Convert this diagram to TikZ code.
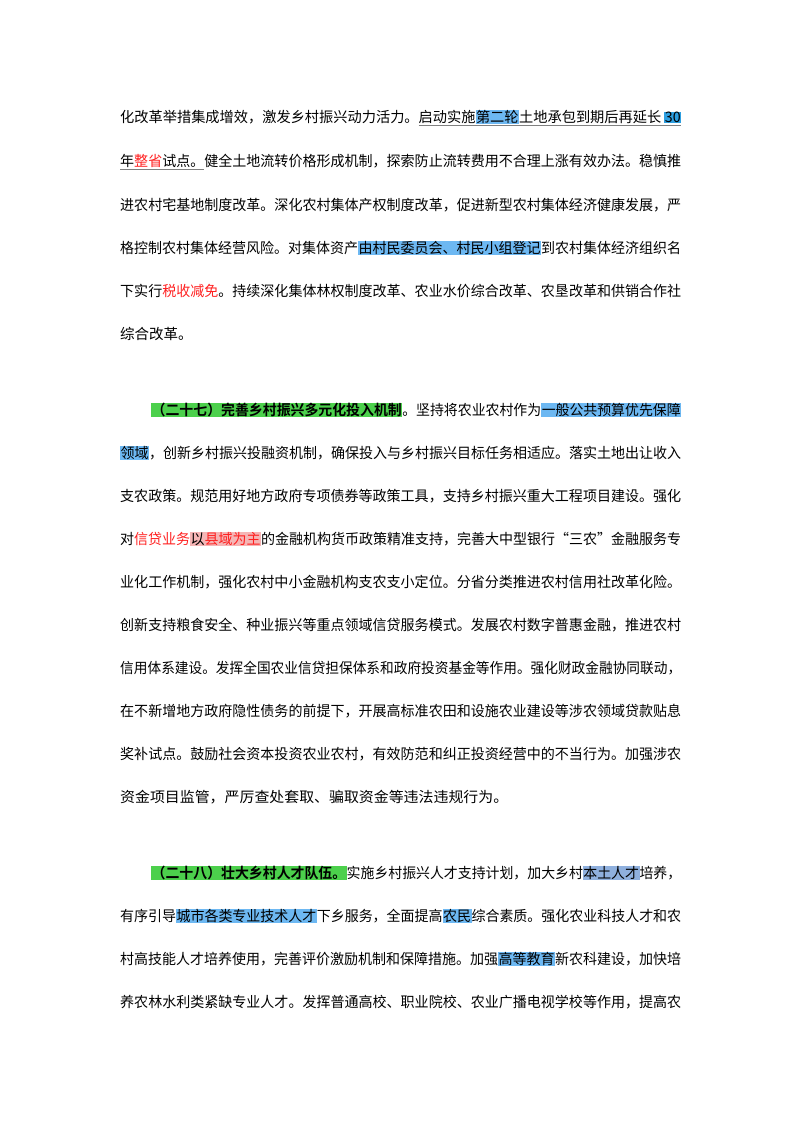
\documentclass[tikz,border=0pt]{standalone}
\usepackage{fontspec}
\setmainfont{Noto Sans CJK SC}[BoldFont={Noto Sans CJK SC Bold}]
\definecolor{hlblue}{HTML}{6DB8F2}
\definecolor{hldark}{HTML}{2E9FE0}
\definecolor{hlgrey}{HTML}{8FB0DE}
\definecolor{hlgreen}{HTML}{4CD04C}
\definecolor{hlpink}{HTML}{F5B5B5}
\definecolor{redtxt}{HTML}{FF2020}
\newcommand\hb[1]{{\fboxsep=0.5pt\colorbox{hlblue}{#1}}}
\newcommand\hd[1]{{\fboxsep=0.5pt\colorbox{hldark}{#1}}}
\newcommand\hg[1]{{\fboxsep=0.5pt\colorbox{hlgrey}{#1}}}
\newcommand\hgr[1]{{\fboxsep=0.5pt\colorbox{hlgreen}{\bfseries #1}}}
\newcommand\hp[1]{{\fboxsep=0.5pt\colorbox{hlpink}{#1}}}
\newcommand\rt[1]{{\color{redtxt}#1}}
\newcommand\ul[1]{{\color{gray}\underline{\color{black}#1}}}
\newcommand\fl[2]{\resizebox{#1pt}{\height}{#2}}
\begin{document}
\begin{tikzpicture}[x=1pt,y=-1pt,
  ln/.style={anchor=west,inner sep=0pt,font=\fontsize{14.5}{16}\selectfont}]
\useasboundingbox (0,0) rectangle (800,1132);
% paragraph 1
\node[ln] (a1) at (120,118) {\fl{561}{化改革举措集成增效，激发乡村振兴动力活力。\ul{启动实施\hb{第二轮}土地承包到期后再延长 \hd{30}}}};
\node[ln] (a2) at (120,162) {\fl{561}{\ul{年\rt{整省}试点。}健全土地流转价格形成机制，探索防止流转费用不合理上涨有效办法。稳慎推}};
\node[ln] (a3) at (120,205) {\fl{561}{进农村宅基地制度改革。深化农村集体产权制度改革，促进新型农村集体经济健康发展，严}};
\node[ln] (a4) at (120,248) {\fl{561}{格控制农村集体经营风险。对集体资产\hb{由村民委员会、村民小组登记}到农村集体经济组织名}};
\node[ln] (a5) at (120,291) {\fl{561}{下实行\rt{税收减免}。持续深化集体林权制度改革、农业水价综合改革、农垦改革和供销合作社}};
\node[ln] (a6) at (120,334) {综合改革。};
% paragraph 2
\node[ln] (b1) at (151,410) {\fl{530}{\hgr{（二十七）完善乡村振兴多元化投入机制}。坚持将农业农村作为\hb{一般公共预算优先保障}}};
\node[ln] (b2) at (120,453) {\fl{561}{\hb{领域}，创新乡村振兴投融资机制，确保投入与乡村振兴目标任务相适应。落实土地出让收入}};
\node[ln] (b3) at (120,496) {\fl{561}{支农政策。规范用好地方政府专项债券等政策工具，支持乡村振兴重大工程项目建设。强化}};
\node[ln] (b4) at (120,539) {\fl{561}{对\rt{信贷业务}\hp{以\rt{县域为主}}的金融机构货币政策精准支持，完善大中型银行“三农”金融服务专}};
\node[ln] (b5) at (120,582) {\fl{561}{业化工作机制，强化农村中小金融机构支农支小定位。分省分类推进农村信用社改革化险。}};
\node[ln] (b6) at (120,625) {\fl{561}{创新支持粮食安全、种业振兴等重点领域信贷服务模式。发展农村数字普惠金融，推进农村}};
\node[ln] (b7) at (120,668) {\fl{561}{信用体系建设。发挥全国农业信贷担保体系和政府投资基金等作用。强化财政金融协同联动，}};
\node[ln] (b8) at (120,711) {\fl{561}{在不新增地方政府隐性债务的前提下，开展高标准农田和设施农业建设等涉农领域贷款贴息}};
\node[ln] (b9) at (120,754) {\fl{561}{奖补试点。鼓励社会资本投资农业农村，有效防范和纠正投资经营中的不当行为。加强涉农}};
\node[ln] (b10) at (120,797) {\fl{388}{资金项目监管，严厉查处套取、骗取资金等违法违规行为。}};
% paragraph 3
\node[ln] (c1) at (151,873) {\fl{530}{\hgr{（二十八）壮大乡村人才队伍。}实施乡村振兴人才支持计划，加大乡村\hg{本土人才}培养，}};
\node[ln] (c2) at (120,916) {\fl{561}{有序引导\hb{城市各类专业技术人才}下乡服务，全面提高\hb{农民}综合素质。强化农业科技人才和农}};
\node[ln] (c3) at (120,959) {\fl{561}{村高技能人才培养使用，完善评价激励机制和保障措施。加强\hb{高等教育}新农科建设，加快培}};
\node[ln] (c4) at (120,1002) {\fl{561}{养农林水利类紧缺专业人才。发挥普通高校、职业院校、农业广播电视学校等作用，提高农}};
\end{tikzpicture}
\end{document}
